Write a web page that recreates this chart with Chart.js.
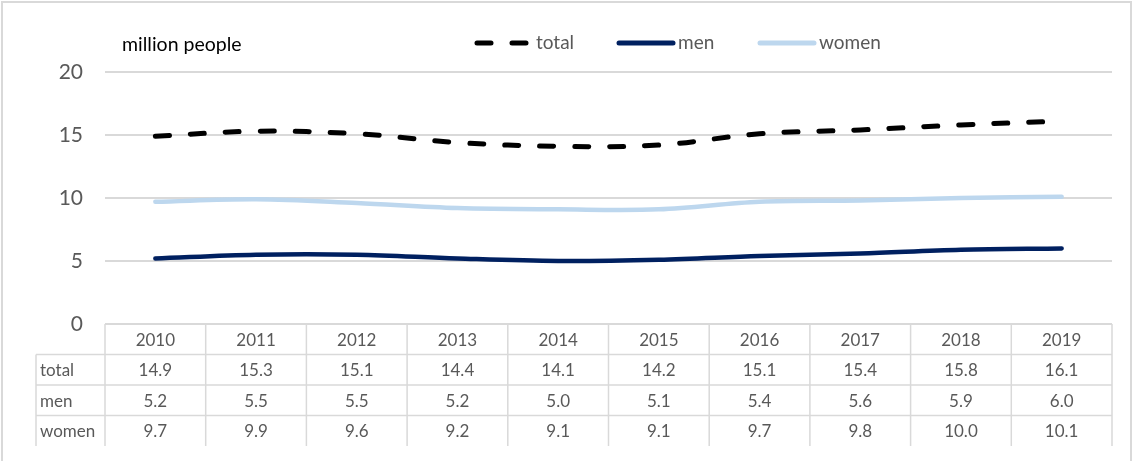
<!DOCTYPE html>
<html>
<head>
<meta charset="utf-8">
<script src="https://cdn.jsdelivr.net/npm/chart.js@4/dist/chart.umd.min.js"></script>
<style>
  html, body { margin: 0; padding: 0; background: #fff; }
  #wrap { width: 1133px; height: 461px; position: relative; }
</style>
</head>
<body>
<div id="wrap"><canvas id="chart" width="1133" height="461"></canvas></div>
<script>
const years = ['2010', '2011', '2012', '2013', '2014', '2015', '2016', '2017', '2018', '2019'];
const total = [14.9, 15.3, 15.1, 14.4, 14.1, 14.2, 15.1, 15.4, 15.8, 16.1];
const men = [5.2, 5.5, 5.5, 5.2, 5.0, 5.1, 5.4, 5.6, 5.9, 6.0];
const women = [9.7, 9.9, 9.6, 9.2, 9.1, 9.1, 9.7, 9.8, 10.0, 10.1];
const yTicks = [0, 5, 10, 15, 20];
const unitLabel = 'million people';

const FONT = 'Lato, "Open Sans", sans-serif';
const GREY = '#595959';
const GRID = '#d9d9d9';

const rows = [
  { label: 'total', values: total },
  { label: 'men', values: men },
  { label: 'women', values: women }
];

// frame, unit label, legend and the data table under the plot
const extras = {
  id: 'extras',
  afterDraw(chart) {
    const ctx = chart.ctx;
    const area = chart.chartArea;
    const x = chart.scales.x;
    ctx.save();

    // outer frame
    ctx.strokeStyle = GRID;
    ctx.lineWidth = 2;
    ctx.strokeRect(2, 2, 1129, 480);

    // unit label
    ctx.fillStyle = '#000';
    ctx.font = '19.5px ' + FONT;
    ctx.textBaseline = 'middle';
    ctx.textAlign = 'left';
    ctx.fillText(unitLabel, 122, 45);

    // legend
    const legendX = [475, 617, 758];
    chart.data.datasets.forEach((ds, i) => {
      const lx = legendX[i];
      ctx.beginPath();
      ctx.strokeStyle = ds.borderColor;
      ctx.lineWidth = 5;
      ctx.lineCap = 'round';
      ctx.setLineDash(ds.borderDash || []);
      ctx.moveTo(lx + 2, 43);
      ctx.lineTo(lx + 56, 43);
      ctx.stroke();
      ctx.setLineDash([]);
      ctx.fillStyle = GREY;
      ctx.font = '19px ' + FONT;
      ctx.fillText(ds.label, lx + 61, 43);
    });

    // data table
    const top = area.bottom;
    const rowH = 30.5;
    const labelLeft = 36;
    const left = area.left;
    const right = area.right;
    const edges = [left];
    for (let i = 1; i < years.length; i++) {
      edges.push((x.getPixelForValue(i - 1) + x.getPixelForValue(i)) / 2);
    }
    edges.push(right);

    ctx.strokeStyle = GRID;
    ctx.lineWidth = 1.5;
    ctx.lineCap = 'butt';
    const bottom = top + rowH * (rows.length + 1);
    ctx.beginPath();
    // horizontal rules
    ctx.moveTo(left, top); ctx.lineTo(right, top);
    for (let r = 1; r <= rows.length; r++) {
      ctx.moveTo(labelLeft, top + rowH * r); ctx.lineTo(right, top + rowH * r);
    }
    // vertical rules
    edges.forEach(e => { ctx.moveTo(e, top); ctx.lineTo(e, bottom); });
    ctx.moveTo(labelLeft, top + rowH); ctx.lineTo(labelLeft, bottom);
    ctx.stroke();

    ctx.fillStyle = GREY;
    ctx.font = '17px ' + FONT;
    ctx.textAlign = 'center';
    years.forEach((yr, i) => {
      ctx.fillText(yr, x.getPixelForValue(i), top + rowH / 2 + 1);
    });
    rows.forEach((row, r) => {
      const cy = top + rowH * (r + 1.5) + 1;
      ctx.textAlign = 'left';
      ctx.fillText(row.label, labelLeft + 4, cy);
      ctx.textAlign = 'center';
      row.values.forEach((v, i) => {
        ctx.fillText(v.toFixed(1), x.getPixelForValue(i), cy);
      });
    });
    ctx.restore();
  }
};

new Chart(document.getElementById('chart'), {
  type: 'line',
  data: {
    labels: years,
    datasets: [
      {
        label: 'total',
        data: total,
        borderColor: '#000000',
        borderWidth: 5,
        borderDash: [14, 21],
        borderCapStyle: 'round',
        tension: 0.35,
        pointRadius: 0
      },
      {
        label: 'men',
        data: men,
        borderColor: '#002060',
        borderWidth: 4.5,
        borderCapStyle: 'round',
        tension: 0.35,
        pointRadius: 0
      },
      {
        label: 'women',
        data: women,
        borderColor: '#bdd7ee',
        borderWidth: 4.5,
        borderCapStyle: 'round',
        tension: 0.35,
        pointRadius: 0
      }
    ]
  },
  options: {
    responsive: false,
    animation: false,
    layout: { padding: { left: 0, right: 21, top: 72, bottom: 137 } },
    plugins: {
      legend: { display: false },
      tooltip: { enabled: false }
    },
    scales: {
      x: {
        display: false,
        offset: true
      },
      y: {
        min: 0,
        max: 20,
        afterBuildTicks(scale) {
          scale.ticks = yTicks.map(v => ({ value: v }));
        },
        afterFit(scale) {
          scale.width = 105;
        },
        border: { display: false },
        grid: {
          color: GRID,
          lineWidth: 2,
          drawTicks: false
        },
        ticks: {
          padding: 22,
          color: GREY,
          font: { family: FONT, size: 21 }
        }
      }
    }
  },
  plugins: [extras]
});
</script>
</body>
</html>
